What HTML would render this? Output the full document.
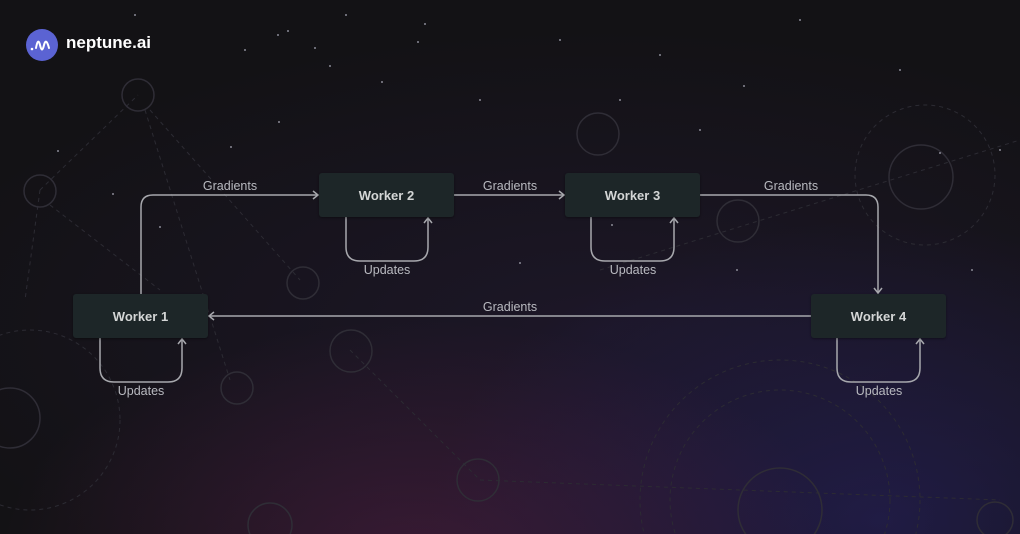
<!DOCTYPE html>
<html><head><meta charset="utf-8"><style>
html,body{margin:0;padding:0;width:1020px;height:534px;overflow:hidden}
body{position:relative;font-family:"Liberation Sans",sans-serif;
background:
radial-gradient(ellipse 420px 240px at 420px 560px, rgba(100,35,85,0.45), rgba(0,0,0,0) 100%),
radial-gradient(ellipse 450px 300px at 880px 520px, rgba(45,38,120,0.45), rgba(0,0,0,0) 100%),
radial-gradient(ellipse 700px 300px at 600px 330px, rgba(40,28,62,0.45), rgba(0,0,0,0) 100%),
#131215;}
.box{position:absolute;width:135px;height:44px;background:#1d2628;border-radius:3px;color:#d4d6d6;font-weight:bold;font-size:13px;display:flex;align-items:center;justify-content:center;box-shadow:0 1px 2px rgba(0,0,0,.4)}
.lbl{position:absolute;color:#b9bac0;font-size:12.5px;transform:translateX(-50%)}
</style></head><body>
<svg width="1020" height="534" style="position:absolute;left:0;top:0;display:block">
<g fill="none" stroke="#2c2b33" stroke-width="1" stroke-dasharray="4 4">
<line x1="40" y1="190" x2="138" y2="95"/><line x1="150" y1="110" x2="300" y2="280"/><line x1="145" y1="110" x2="230" y2="380"/>
<line x1="40" y1="190" x2="25" y2="300"/><line x1="50" y1="205" x2="160" y2="290"/>
<circle cx="30" cy="420" r="90"/><circle cx="780" cy="500" r="140"/><circle cx="780" cy="500" r="110"/>
<circle cx="925" cy="175" r="70"/><line x1="600" y1="270" x2="1020" y2="140"/><line x1="480" y1="480" x2="1000" y2="500"/>
<line x1="350" y1="350" x2="480" y2="480"/>
</g>
<g fill="none" stroke="#2f2d36" stroke-width="1.5">
<circle cx="138" cy="95" r="16"/><circle cx="40" cy="191" r="16"/><circle cx="303" cy="283" r="16"/><circle cx="598" cy="134" r="21"/>
<circle cx="738" cy="221" r="21"/><circle cx="921" cy="177" r="32"/><circle cx="351" cy="351" r="21"/><circle cx="237" cy="388" r="16"/>
<circle cx="478" cy="480" r="21"/><circle cx="270" cy="525" r="22"/><circle cx="10" cy="418" r="30"/><circle cx="995" cy="520" r="18"/><circle cx="780" cy="510" r="42"/>
</g>
<g fill="#8a8a95">
<circle cx="135" cy="15" r="1"/><circle cx="278" cy="35" r="1"/><circle cx="288" cy="31" r="1"/><circle cx="245" cy="50" r="1"/><circle cx="315" cy="48" r="1"/><circle cx="330" cy="66" r="1"/><circle cx="346" cy="15" r="1"/><circle cx="418" cy="42" r="1"/><circle cx="425" cy="24" r="1"/><circle cx="382" cy="82" r="1"/><circle cx="279" cy="122" r="1"/><circle cx="231" cy="147" r="1"/><circle cx="58" cy="151" r="1"/><circle cx="113" cy="194" r="1"/><circle cx="160" cy="227" r="1"/><circle cx="520" cy="263" r="1"/><circle cx="737" cy="270" r="1"/><circle cx="612" cy="225" r="1"/><circle cx="744" cy="86" r="1"/><circle cx="940" cy="153" r="1"/><circle cx="972" cy="270" r="1"/><circle cx="660" cy="55" r="1"/><circle cx="800" cy="20" r="1"/><circle cx="900" cy="70" r="1"/><circle cx="1000" cy="150" r="1"/><circle cx="560" cy="40" r="1"/><circle cx="620" cy="100" r="1"/><circle cx="480" cy="100" r="1"/><circle cx="700" cy="130" r="1"/>
</g>
<g fill="none" stroke="#a7a8ad" stroke-width="1.5">
<path d="M141 294 V207 Q141 195 153 195 H317"/>
<path d="M454 195 H563"/>
<path d="M700 195 H866 Q878 195 878 207 V292"/>
<path d="M811 316 H210"/>
<path d="M346 217 V247 Q346 261 360 261 H414 Q428 261 428 247 V219"/>
<path d="M591 217 V247 Q591 261 605 261 H660 Q674 261 674 247 V219"/>
<path d="M100 338 V368 Q100 382 114 382 H168 Q182 382 182 368 V340"/>
<path d="M837 338 V368 Q837 382 851 382 H906 Q920 382 920 368 V340"/>
</g>
<g fill="none" stroke="#a7a8ad" stroke-width="1.5">
<path d="M313 191 L318 195 L313 199"/><path d="M559 191 L564 195 L559 199"/>
<path d="M874 288 L878 293 L882 288"/><path d="M214 312 L209 316 L214 320"/>
<path d="M424 223 L428 218 L432 223"/><path d="M670 223 L674 218 L678 223"/>
<path d="M178 344 L182 339 L186 344"/><path d="M916 344 L920 339 L924 344"/>
</g>
<circle cx="42" cy="45" r="16" fill="#5b63d3"/>
<path d="M36 48 Q38 37 40 45 Q42 54 44 45 Q46 37 49 48" fill="none" stroke="#fff" stroke-width="2" stroke-linecap="round"/>
<circle cx="32" cy="49" r="1.3" fill="#fff"/>
</svg>
<div style="position:absolute;left:66px;top:33px;color:#fff;font-weight:bold;font-size:17px">neptune.ai</div>
<div class="box" style="left:319px;top:173px">Worker 2</div>
<div class="box" style="left:565px;top:173px">Worker 3</div>
<div class="box" style="left:73px;top:294px">Worker 1</div>
<div class="box" style="left:811px;top:294px">Worker 4</div>
<div class="lbl" style="left:230px;top:179px">Gradients</div>
<div class="lbl" style="left:510px;top:179px">Gradients</div>
<div class="lbl" style="left:791px;top:179px">Gradients</div>
<div class="lbl" style="left:510px;top:300px">Gradients</div>
<div class="lbl" style="left:387px;top:263px">Updates</div>
<div class="lbl" style="left:633px;top:263px">Updates</div>
<div class="lbl" style="left:141px;top:384px">Updates</div>
<div class="lbl" style="left:879px;top:384px">Updates</div>
</body></html>
